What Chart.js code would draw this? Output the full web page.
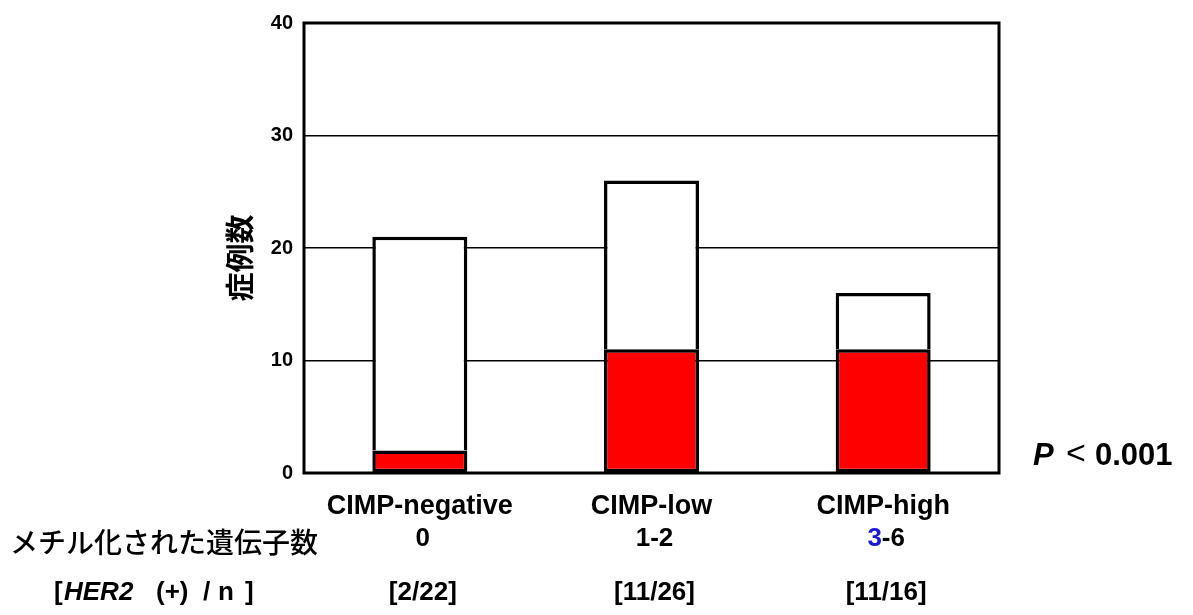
<!DOCTYPE html>
<html lang="ja">
<head>
    <meta charset="UTF-8">
    <script src="https://cdn.jsdelivr.net/npm/chart.js"></script>
    <title>CIMP / HER2</title>
    <style>
        html, body { margin: 0; padding: 0; background: #fff; }
        #wrap { width: 1193px; height: 615px; }
    </style>
</head>
<body>
<div id="wrap"><canvas id="cimpChart" width="1193" height="615"></canvas></div>
<script>
    // data
    const categories = ['CIMP-negative', 'CIMP-low', 'CIMP-high'];
    const methylatedGenes = ['0', '1-2', '3-6'];
    const her2Labels = ['[2/22]', '[11/26]', '[11/16]'];
    const her2Positive = [2, 11, 11];
    const totalCases = [21, 26, 16];
    const yTicks = [0, 10, 20, 30, 40];

    const her2Negative = totalCases.map((t, i) => t - her2Positive[i]);

    const bold = '"Liberation Sans", Arial, sans-serif';
    const jp = '"Noto Sans CJK JP", sans-serif';

    // extra text: y title, rows under the axis, p value, frame
    const extraText = {
        id: 'extraText',
        afterDraw(chart) {
            const ctx = chart.ctx;
            const x = chart.scales.x;
            const area = chart.chartArea;
            ctx.save();

            // frame
            ctx.strokeStyle = '#000';
            ctx.lineWidth = 3;
            ctx.strokeRect(area.left, area.top, area.right - area.left, area.bottom - area.top);

            // y title
            ctx.save();
            ctx.translate(240, 258);
            ctx.rotate(-Math.PI / 2);
            ctx.fillStyle = '#000';
            ctx.font = 'bold 29px ' + jp;
            ctx.textAlign = 'center';
            ctx.textBaseline = 'middle';
            ctx.fillText('症例数', 0, 0);
            ctx.restore();

            ctx.textBaseline = 'middle';
            ctx.fillStyle = '#000';

            // row 2 label
            ctx.font = '500 28px ' + jp;
            ctx.textAlign = 'left';
            ctx.fillText('メチル化された遺伝子数', 10, 542);

            // row 2 values
            ctx.font = 'bold 26px ' + bold;
            methylatedGenes.forEach((s, i) => {
                const cx = x.getPixelForValue(i) + 3;
                const w = ctx.measureText(s).width;
                let px = cx - w / 2;
                ctx.textAlign = 'left';
                if (i === 2) {
                    ctx.fillStyle = '#1a1adc';
                    ctx.fillText(s[0], px, 539);
                    px += ctx.measureText(s[0]).width;
                    ctx.fillStyle = '#000';
                    ctx.fillText(s.slice(1), px, 539);
                } else {
                    ctx.fillText(s, px, 539);
                }
            });

            // row 3 label: [HER2 (+) / n ]
            const parts = [['bold ', '[', 54], ['italic bold ', 'HER2', 64], ['bold ', '(+)', 156],
                           ['bold ', '/', 203], ['bold ', 'n', 218], ['bold ', ']', 245]];
            ctx.textAlign = 'left';
            parts.forEach(p => {
                ctx.font = p[0] + '26px ' + bold;
                ctx.fillText(p[1], p[2], 593);
            });

            // row 3 values
            ctx.font = 'bold 26px ' + bold;
            ctx.textAlign = 'center';
            her2Labels.forEach((s, i) => {
                ctx.fillText(s, x.getPixelForValue(i) + 3, 593);
            });

            // p value
            ctx.textAlign = 'left';
            ctx.font = 'italic bold 31px ' + bold;
            ctx.fillText('P', 1033, 456);
            ctx.font = '34px ' + bold;
            ctx.fillText('<', 1066, 455);
            ctx.font = 'bold 31px ' + bold;
            ctx.fillText('0.001', 1095, 456);

            ctx.restore();
        }
    };

    const ctx = document.getElementById('cimpChart').getContext('2d');
    const cimpChart = new Chart(ctx, {
        type: 'bar',
        data: {
            labels: categories,
            datasets: [{
                label: 'HER2 (+)',
                data: her2Positive,
                backgroundColor: '#ff0000',
                borderColor: '#000',
                borderWidth: 3.5,
                borderSkipped: false
            }, {
                label: 'HER2 (-)',
                data: her2Negative,
                backgroundColor: '#ffffff',
                borderColor: '#000',
                borderWidth: 3.5,
                borderSkipped: 'bottom'
            }]
        },
        options: {
            responsive: false,
            animation: false,
            layout: { padding: { left: 0, top: 22, right: 194, bottom: 0 } },
            datasets: { bar: { categoryPercentage: 1, barPercentage: 0.41 } },
            plugins: { legend: { display: false }, tooltip: { enabled: false } },
            scales: {
                x: {
                    stacked: true,
                    grid: { display: false },
                    border: { display: false },
                    ticks: {
                        color: '#000',
                        padding: 9,
                        font: { family: bold, size: 27, weight: 'bold' }
                    },
                    afterFit(scale) { scale.height = 142; }
                },
                y: {
                    stacked: true,
                    min: 0,
                    max: 40,
                    afterBuildTicks(scale) { scale.ticks = yTicks.map(v => ({ value: v })); },
                    grid: { color: '#000', lineWidth: 1.5, drawTicks: false },
                    border: { display: false },
                    ticks: {
                        color: '#000',
                        padding: 11,
                        font: { family: bold, size: 20, weight: 'bold' }
                    },
                    afterFit(scale) { scale.width = 304; }
                }
            }
        },
        plugins: [extraText]
    });
</script>
</body>
</html>
